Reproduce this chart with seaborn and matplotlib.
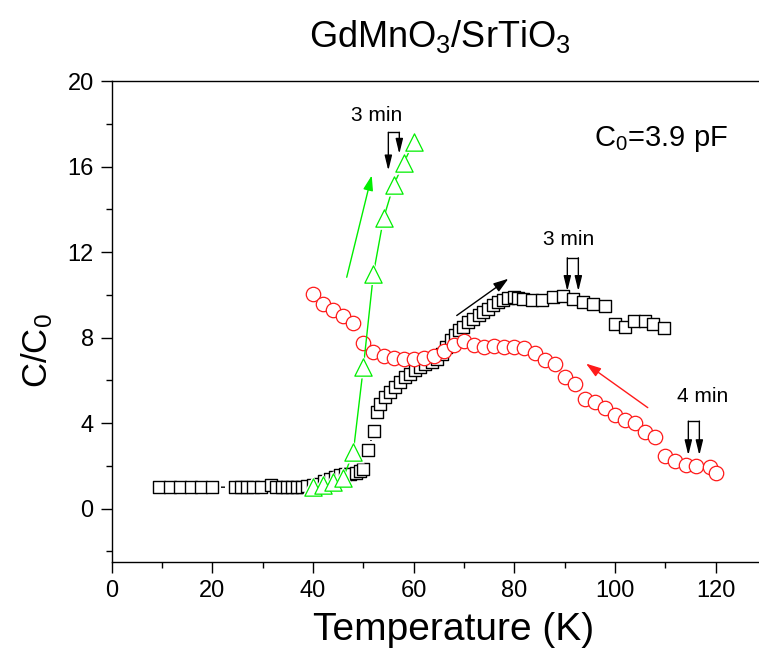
import matplotlib
matplotlib.use("Agg")
import matplotlib.pyplot as plt
import seaborn as sns
import pandas as pd
from matplotlib.ticker import MultipleLocator

# ---- data ----
T_sq = [9.46, 11.52, 13.57, 15.70, 17.74, 19.87,
        24.44, 25.63, 26.82, 28.01, 29.72, 31.59, 32.58, 33.78, 34.77, 35.76, 36.76, 37.75,
        38.74, 39.95, 41.06, 42.27, 43.39, 44.40, 45.41, 46.42, 47.33, 48.44, 49.35, 49.95,
        50.96, 52.07, 52.68, 53.28, 54.29, 55.30, 56.31, 57.32, 58.23, 59.24, 60.25, 61.26,
        62.27, 63.58, 64.59, 65.60, 66.51, 67.32, 68.13, 68.94, 69.85, 70.86, 71.87, 72.88,
        73.79, 74.80, 75.81, 76.82, 77.82, 78.83, 79.84, 80.75, 81.76, 83.48, 85.40, 87.62,
        89.64, 91.56, 93.68, 95.70, 98.02, 100.04, 101.96, 103.68, 106.00, 107.62, 109.74]
C_sq = [1.00, 1.00, 1.00, 1.00, 1.00, 1.00,
        1.00, 1.00, 1.00, 1.00, 1.00, 1.08, 1.00, 1.00, 1.00, 1.00, 1.00, 1.02,
        1.05, 1.08, 1.16, 1.27, 1.39, 1.47, 1.55, 1.60, 1.62, 1.68, 1.75, 1.86,
        2.72, 3.65, 4.50, 4.90, 5.20, 5.45, 5.70, 5.90, 6.15, 6.30, 6.46, 6.60,
        6.78, 6.85, 7.00, 7.25, 7.55, 7.87, 8.10, 8.34, 8.50, 8.73, 8.88, 9.04,
        9.20, 9.35, 9.50, 9.66, 9.77, 9.87, 9.90, 9.87, 9.82, 9.74, 9.74, 9.90,
        9.93, 9.82, 9.66, 9.59, 9.46, 8.65, 8.50, 8.78, 8.78, 8.62, 8.46]

T_ci = [40, 42, 44, 46, 48, 50, 52, 54, 56, 58, 60, 62, 64, 66, 68, 70, 72, 74, 76, 78,
        80, 82, 84, 86, 88, 90, 92, 94, 96, 98, 100, 102, 104, 106, 108, 110, 112, 114,
        116, 118.8, 120]
C_ci = [10.05, 9.59, 9.27, 8.99, 8.68, 7.74, 7.32, 7.12, 7.04, 7.01, 6.98, 7.04, 7.12,
        7.37, 7.63, 7.84, 7.63, 7.57, 7.59, 7.56, 7.56, 7.53, 7.28, 6.93, 6.77, 6.15,
        5.81, 5.14, 4.98, 4.72, 4.36, 4.12, 4.00, 3.58, 3.37, 2.44, 2.22, 2.06, 2.01,
        1.93, 1.65]

T_tr = [40, 42, 44, 46, 48, 50, 52, 54, 56, 58, 60]
C_tr = [1.03, 1.11, 1.23, 1.44, 2.64, 6.62, 10.99, 13.57, 15.13, 16.15, 17.16]

x_ticks = [0, 20, 40, 60, 80, 100, 120]
y_ticks = [0, 4, 8, 12, 16, 20]
title = "GdMnO$_\\mathregular{3}$/SrTiO$_\\mathregular{3}$"
x_label = "Temperature (K)"
y_label = "C/C$_\\mathregular{0}$"
c0_text = "C$_\\mathregular{0}$=3.9 pF"

df_sq = pd.DataFrame({"T": T_sq, "C": C_sq})
df_ci = pd.DataFrame({"T": T_ci, "C": C_ci})
df_tr = pd.DataFrame({"T": T_tr, "C": C_tr})

sns.set_style("ticks")
plt.rcParams["font.family"] = ["Liberation Sans", "DejaVu Sans"]
plt.rcParams["text.color"] = "black"
plt.rcParams["axes.labelcolor"] = "black"
plt.rcParams["mathtext.default"] = "regular"

GREEN = "#00ee00"
RED = "#ff1a1a"

fig = plt.figure(figsize=(7.59, 6.59), dpi=100)
ax = fig.add_axes([111.7 / 759, (659 - 562) / 659, (758.5 - 111.7) / 759, (562 - 81) / 659])

# black squares
sns.lineplot(data=df_sq, x="T", y="C", sort=False, color="black", lw=1.0, ax=ax, zorder=1)
sns.scatterplot(data=df_sq, x="T", y="C", marker="s", s=190, color="white",
                edgecolor="none", linewidth=0, ax=ax, zorder=2)
sns.scatterplot(data=df_sq, x="T", y="C", marker="s", s=78, color="black",
                facecolor="white", edgecolor="black", linewidth=1.0, ax=ax, zorder=3)
# red circles
sns.scatterplot(data=df_ci, x="T", y="C", marker="o", s=108, color=RED,
                facecolor="white", edgecolor=RED, linewidth=0.9, ax=ax, zorder=4)
# green triangles
sns.lineplot(data=df_tr, x="T", y="C", sort=False, color=GREEN, lw=1.0, ax=ax, zorder=5)
sns.scatterplot(data=df_tr, x="T", y="C", marker="^", s=270, color="white",
                edgecolor="none", linewidth=0, ax=ax, zorder=6)
sns.scatterplot(data=df_tr, x="T", y="C", marker="^", s=155, color=GREEN,
                facecolor="white", edgecolor=GREEN, linewidth=0.9, ax=ax, zorder=7)

# direction arrows
def arrow(x0, y0, x1, y1, color):
    ax.annotate("", xy=(x1, y1), xytext=(x0, y0),
                arrowprops=dict(arrowstyle="-|>,head_length=0.9,head_width=0.3",
                                color=color, lw=1.0, mutation_scale=10,
                                shrinkA=0, shrinkB=0), zorder=8)

arrow(46.69, 10.82, 51.66, 15.58, GREEN)
arrow(68.55, 9.03, 78.8, 10.75, "black")
arrow(106.5, 4.72, 94.24, 6.78, RED)

# bracket arrows with "x min" labels
def bracket(xl, xr, ytop, yl, yr, label, tx, ty):
    ax.plot([xl, xr], [ytop, ytop], color="black", lw=1.0, zorder=8)
    for xx, yy in ((xl, yl), (xr, yr)):
        ax.annotate("", xy=(xx, yy), xytext=(xx, ytop),
                    arrowprops=dict(arrowstyle="-|>,head_length=0.9,head_width=0.22",
                                    color="black", lw=1.0, mutation_scale=10,
                                    shrinkA=0, shrinkB=0), zorder=8)
    ax.text(tx, ty, label, ha="center", va="center", fontsize=15, color="black")

bracket(54.96, 57.14, 17.6, 15.81, 16.59, "3 min", 52.65, 18.38)
bracket(90.52, 92.71, 11.73, 10.17, 10.17, "3 min", 90.72, 12.57)
bracket(114.56, 116.75, 4.09, 2.49, 2.49, "4 min", 117.4, 5.25)

ax.text(95.8, 17.29, c0_text, ha="left", va="center", fontsize=21)

# axes styling
ax.set_xlim(0, 128.5)
ax.set_ylim(-2.5, 20)
ax.set_xticks(x_ticks)
ax.set_yticks(y_ticks)
ax.xaxis.set_minor_locator(MultipleLocator(10))
ax.yaxis.set_minor_locator(MultipleLocator(2))
ax.tick_params(which="major", direction="out", length=8, width=1.0, labelsize=17,
               color="black", labelcolor="black", pad=5)
ax.tick_params(which="minor", direction="out", length=4, width=1.0, color="black")
ax.tick_params(top=False, right=False, which="both")
for side in ("left", "bottom", "top"):
    ax.spines[side].set_visible(True)
    ax.spines[side].set_linewidth(1.0)
    ax.spines[side].set_color("black")
ax.spines["right"].set_visible(False)

ax.set_xlabel(x_label, fontsize=28)
ax.xaxis.set_label_coords(0.528, -0.104)
ax.set_ylabel(y_label, fontsize=25)
ax.yaxis.set_label_coords(-0.088, 0.44)
fig.text(440 / 759, 1 - 46.7 / 659, title, ha="center", va="baseline", fontsize=26)

fig.savefig("out.png", dpi=100)
